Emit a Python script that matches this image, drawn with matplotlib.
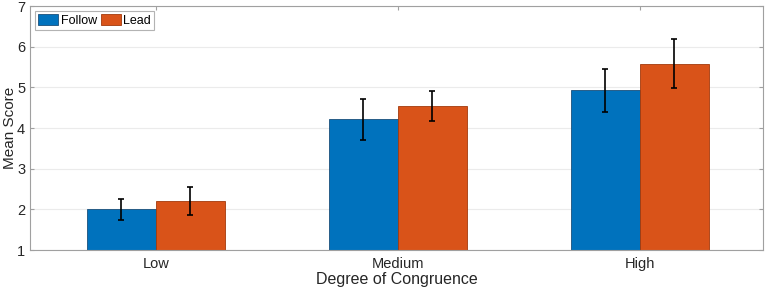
import matplotlib
matplotlib.use("Agg")
import matplotlib.pyplot as plt
import numpy as np

categories = ["Low", "Medium", "High"]
follow = [2.00, 4.21, 4.93]
lead = [2.21, 4.53, 5.58]
follow_err = [0.26, 0.51, 0.53]
lead_err = [0.35, 0.37, 0.60]
yticks = [1, 2, 3, 4, 5, 6, 7]

plt.rcParams['font.family'] = ['Liberation Sans', 'DejaVu Sans']

fig = plt.figure(figsize=(7.65, 2.89), dpi=100)
ax = fig.add_axes([30/765, 1-250/289, (763-30)/765, (250-6)/289])

x = np.arange(1, len(categories)+1)
w = 0.285
ax.bar(x - w/2, follow, w, color="#0072BD", edgecolor="#1a4f7a", linewidth=0.6, label="Follow", zorder=2)
ax.bar(x + w/2, lead, w, color="#D95319", edgecolor="#a33a0c", linewidth=0.6, label="Lead", zorder=2)
ax.errorbar(x - w/2, follow, yerr=follow_err, fmt='none', ecolor='black', elinewidth=1.2, capsize=2, capthick=1.2, zorder=3)
ax.errorbar(x + w/2, lead, yerr=lead_err, fmt='none', ecolor='black', elinewidth=1.2, capsize=2, capthick=1.2, zorder=3)

ax.set_ylim(1, 7)
ax.set_xlim(0.48, 3.51)
ax.set_yticks(yticks)
ax.set_xticks(x)
ax.set_xticklabels(categories)
ax.yaxis.grid(True, color="#ebebeb", linewidth=0.8, zorder=0)
ax.set_axisbelow(True)
for s in ax.spines.values():
    s.set_color("#a0a0a0")
    s.set_linewidth(0.8)
ax.tick_params(direction='in', length=3, colors="#a0a0a0", labelcolor="#262626", labelsize=10.5, right=True, top=True)
ax.tick_params(axis='x', pad=5)
ax.set_xlabel("Degree of Congruence", fontsize=11.5, color="#262626", labelpad=1)
ax.set_ylabel("Mean Score", fontsize=11, color="#262626", labelpad=0)

leg = ax.legend(loc="upper left", ncol=2, fontsize=9, frameon=True, fancybox=False,
                handlelength=1.6, handleheight=0.9, handletextpad=0.2, columnspacing=0.3,
                borderpad=0.25, borderaxespad=0.4)
leg.get_frame().set_edgecolor("#a0a0a0")
leg.get_frame().set_linewidth(0.8)

fig.savefig("out.png", dpi=100)
